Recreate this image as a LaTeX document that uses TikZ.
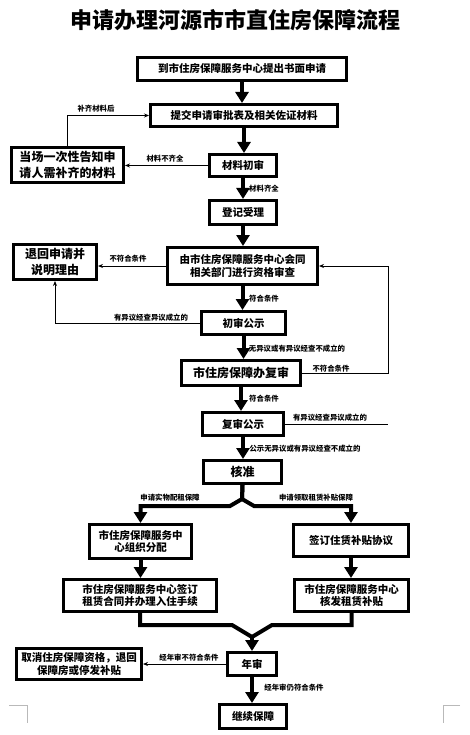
\documentclass[tikz,border=0pt]{standalone}
\usepackage{fontspec}
\setmainfont{Noto Sans CJK SC}
\usetikzlibrary{calc,arrows.meta,positioning}

\tikzset{
    stepbox/.style={draw, line width=3pt, inner sep=0pt, align=center,
        font=\bfseries\fontsize{10.5}{12.8}\selectfont},
    bigbox/.style={font=\bfseries\fontsize{12}{16}\selectfont},
    bigarrow/.style={line width=4pt, -{Triangle[width=13pt,length=11pt]}},
    bigline/.style={line width=4pt},
    thinarrow/.style={line width=1pt, -{Stealth[length=5pt,width=4pt]}},
    thinline/.style={line width=1pt},
    note/.style={inner sep=0pt, font=\bfseries\fontsize{7.4}{8}\selectfont},
    cornermark/.style={gray!55, line width=0.6pt}
}

\begin{document}
\begin{tikzpicture}[x=1pt,y=-1pt]

\newcommand{\drawStepBox}[7][]{
    \node[stepbox, #1, minimum width=#5pt, minimum height=#6pt] (#2) at (#3,#4) {#7};
}

\useasboundingbox (0,0) rectangle (469,735);

\node[font=\bfseries\fontsize{22}{24}\selectfont] (nTitle) at (235,20) {申请办理河源市市直住房保障流程};

\drawStepBox{nApply}{242}{69}{209}{23}{到市住房保障服务中心提出书面申请}
\drawStepBox{nSubmit}{244}{115.5}{187}{22}{提交申请审批表及相关佐证材料}
\drawStepBox[bigbox]{nNotify}{67.5}{165}{112}{35}{当场一次性告知申\\请人需补齐的材料}
\drawStepBox{nCheck}{243}{165.5}{67}{22}{材料初审}
\drawStepBox{nRegister}{243}{212.5}{67}{24}{登记受理}
\drawStepBox{nReview}{242.5}{266}{150}{37}{由市住房保障服务中心会同\\相关部门进行资格审查}
\drawStepBox[bigbox]{nReturn}{55}{262}{83}{35}{退回申请并\\说明理由}
\drawStepBox{nPubA}{243.5}{323}{84}{23}{初审公示}
\drawStepBox[bigbox]{nRecheck}{241}{373}{119}{25}{市住房保障办复审}
\drawStepBox{nPubB}{243}{424}{81}{23}{复审公示}
\drawStepBox[bigbox]{nApprove}{242.5}{472}{78}{23}{核准}
\drawStepBox{nAllot}{140.5}{541.5}{102}{34}{市住房保障服务中\\心组织分配}
\drawStepBox{nAgree}{351}{540.5}{115}{32}{签订住赁补贴协议}
\drawStepBox{nLease}{140}{595.5}{153}{32}{市住房保障服务中心签订\\租赁合同并办理入住手续}
\drawStepBox{nSubsidy}{351.5}{595.5}{114}{32}{市住房保障服务中心\\核发租赁补贴}
\drawStepBox{nAnnual}{252}{664}{49}{23}{年审}
\drawStepBox{nCancel}{79}{664}{125}{31}{取消住房保障资格，退回\\保障房或停发补贴}
\drawStepBox{nKeep}{253}{716.5}{67}{24}{继续保障}

\foreach \a/\b in {nApply/nSubmit, nSubmit/nCheck, nCheck/nRegister, nRegister/nReview,
    nReview/nPubA, nPubA/nRecheck, nRecheck/nPubB, nPubB/nApprove,
    nAllot/nLease, nAgree/nSubsidy, nAnnual/nKeep}
{
    \draw[bigarrow] (\a.south) -- (\a.south |- \b.north);
}

\coordinate (cForkPt) at (242,499);
\draw[bigarrow] (nApprove.south) -- (cForkPt) -- ++(-12,7) -| (nAllot.north);
\draw[bigarrow] (nApprove.south) -- (cForkPt) -- ++(12,7) -| (nAgree.north);

\coordinate (cMergePt) at (252,637);
\draw[bigline] (nLease.south) |- ($(cMergePt)+(-20,-12)$) -- (cMergePt);
\draw[bigline] (nSubsidy.south) |- ($(cMergePt)+(20,-12)$) -- (cMergePt);
\draw[bigarrow] (cMergePt) -- (nAnnual.north);

\coordinate (cBackPt) at (388,266);
\draw[thinarrow] (nNotify.north) |- (nSubmit.west);
\draw[thinarrow] (nCheck.west) -- (nNotify.east |- nCheck.west);
\draw[thinarrow] (nReview.west) -- (nReturn.east |- nReview.west);
\draw[thinarrow] (nPubA.west) -| (nReturn.south);
\draw[thinarrow] (nRecheck.east) -| (cBackPt) -- (nReview.east);
\draw[thinline] (nPubB.east) -- (nPubB.east -| cBackPt);
\draw[thinarrow] (nAnnual.west) -- (nCancel.east |- nAnnual.west);

\foreach \x/\y/\t [count=\i] in {96/109/补齐材料后, 165/159/材料不齐全, 264/189/材料齐全,
    128/259/不符合条件, 264/299/符合条件, 151/318/有异议经查异议成立的,
    297/349/无异议或有异议经查不成立的, 331/369/不符合条件, 264/399/符合条件,
    330/418/有异议经查异议成立的, 305/449/公示无异议或有异议经查不成立的,
    170/498/申请实物配租保障, 316/498/申请领取租赁补贴保障,
    189/658/经年审不符合条件, 294/688/经年审仍符合条件}
{
    \node[note] (nNote\i) at (\x,\y) {\t};
}

\draw[cornermark] (9,705) -- (27,705) -- (27,723);
\draw[cornermark] (460,705) -- (443,705) -- (443,723);

\end{tikzpicture}
\end{document}
